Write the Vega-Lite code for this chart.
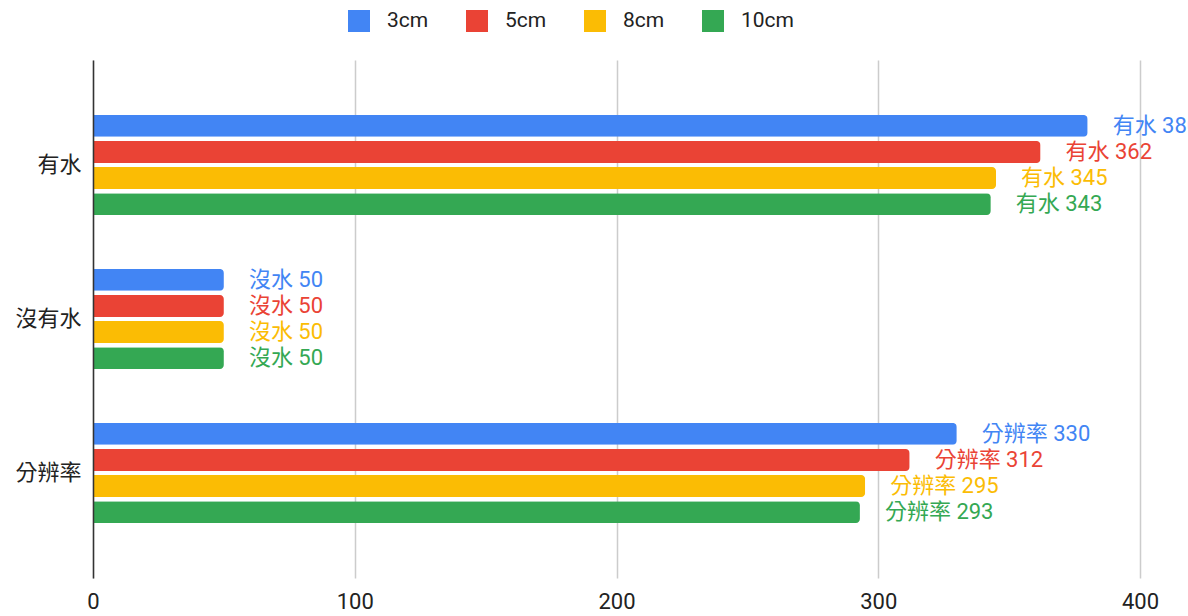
{
  "$schema": "https://vega.github.io/schema/vega-lite/v6.json",
  "autosize": {"type": "none"},
  "padding": {"left": 93, "top": 60, "right": 48, "bottom": 38},
  "width": 1047,
  "height": 518,
  "background": "white",
  "config": {
    "view": {"stroke": null},
    "font": "Roboto, 'Noto Sans CJK TC', sans-serif"
  },
  "data": {
    "values": [
      {"cat": "有水", "size": "3cm", "value": 380, "label": "有水 380"},
      {"cat": "有水", "size": "5cm", "value": 362, "label": "有水 362"},
      {"cat": "有水", "size": "8cm", "value": 345, "label": "有水 345"},
      {"cat": "有水", "size": "10cm", "value": 343, "label": "有水 343"},
      {"cat": "沒有水", "size": "3cm", "value": 50, "label": "沒水 50"},
      {"cat": "沒有水", "size": "5cm", "value": 50, "label": "沒水 50"},
      {"cat": "沒有水", "size": "8cm", "value": 50, "label": "沒水 50"},
      {"cat": "沒有水", "size": "10cm", "value": 50, "label": "沒水 50"},
      {"cat": "分辨率", "size": "3cm", "value": 330, "label": "分辨率 330"},
      {"cat": "分辨率", "size": "5cm", "value": 312, "label": "分辨率 312"},
      {"cat": "分辨率", "size": "8cm", "value": 295, "label": "分辨率 295"},
      {"cat": "分辨率", "size": "10cm", "value": 293, "label": "分辨率 293"}
    ]
  },
  "encoding": {
    "y": {
      "field": "cat", "type": "nominal", "sort": null, "title": null,
      "scale": {"paddingInner": 0.35, "paddingOuter": 0.357},
      "axis": {
        "domainColor": "#333333", "domainWidth": 1.5, "ticks": false,
        "labelFontSize": 22, "labelColor": "#222222", "labelPadding": 12,
        "zindex": 1, "grid": false
      }
    },
    "yOffset": {
      "field": "size", "type": "nominal",
      "scale": {"domain": ["3cm", "5cm", "8cm", "10cm"], "paddingInner": 0.16, "paddingOuter": 0}
    },
    "x": {
      "field": "value", "type": "quantitative", "title": null,
      "scale": {"domain": [0, 400], "nice": false},
      "axis": {
        "values": [0, 100, 200, 300, 400], "domain": false, "ticks": false,
        "gridColor": "#cccccc", "gridWidth": 1.5,
        "labelFontSize": 22, "labelColor": "#222222", "labelPadding": 13,
        "labelFlush": false, "zindex": 0
      }
    },
    "color": {
      "field": "size", "type": "nominal",
      "scale": {"domain": ["3cm", "5cm", "8cm", "10cm"], "range": ["#4285F4", "#EA4335", "#FBBC04", "#34A853"]},
      "legend": {
        "title": null, "orient": "none", "direction": "horizontal",
        "legendX": 255, "legendY": -50,
        "symbolType": "square", "symbolSize": 484, "symbolStrokeWidth": 0, "symbolOpacity": 1,
        "labelFontSize": 21, "labelColor": "#222222", "labelOffset": 17,
        "columnPadding": 37
      }
    }
  },
  "layer": [
    {"mark": {"type": "bar", "cornerRadiusEnd": 4}},
    {
      "mark": {"type": "text", "align": "left", "baseline": "middle", "dx": 25, "fontSize": 22},
      "encoding": {"text": {"field": "label"}}
    }
  ]
}
